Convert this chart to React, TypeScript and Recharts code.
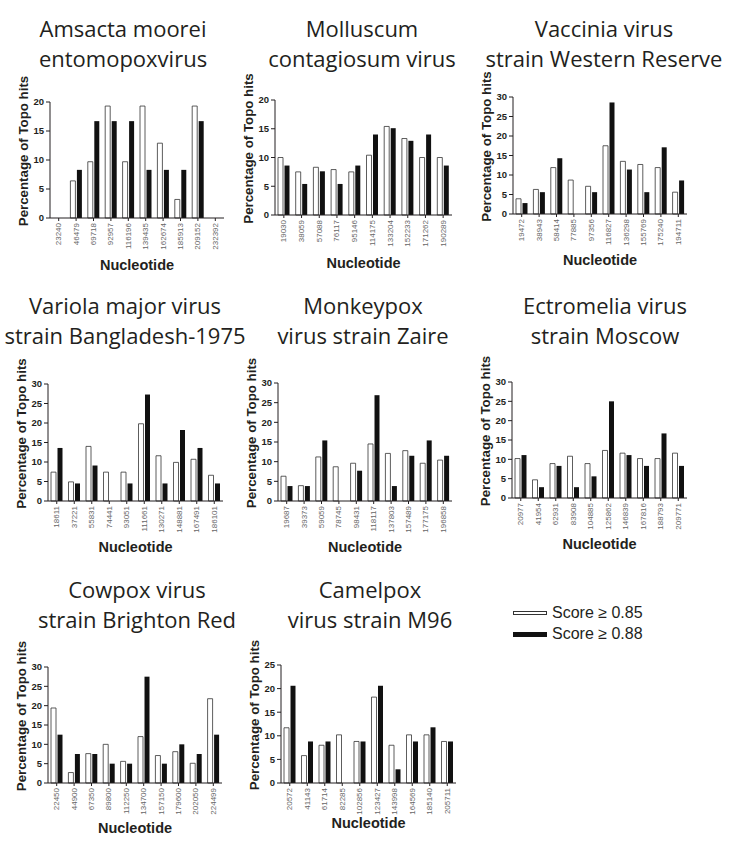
import { BarChart, Bar, XAxis, YAxis } from 'recharts';

// nucleotide positions (x tick labels) and % of Topo hits for the two score cut-offs
const amsPos = ['23240', '46479', '69718', '92957', '116196', '139435', '162674', '185913', '209152', '232392'];
const amsLow = [0, 6.4, 9.7, 19.3, 9.7, 19.3, 12.9, 3.2, 19.3, 0];
const amsHigh = [0, 8.3, 16.7, 16.7, 16.7, 8.3, 8.3, 8.3, 16.7, 0];

const molPos = ['19030', '38059', '57088', '76117', '95146', '114175', '133204', '152233', '171262', '190289'];
const molLow = [10.0, 7.5, 8.3, 7.9, 7.5, 10.4, 15.4, 13.3, 10.0, 10.0];
const molHigh = [8.6, 5.4, 7.6, 5.4, 8.6, 14.0, 15.1, 12.9, 14.0, 8.6];

const vacPos = ['19472', '38943', '58414', '77885', '97356', '116827', '136298', '155769', '175240', '194711'];
const vacLow = [3.9, 6.3, 11.9, 8.7, 7.1, 17.5, 13.5, 12.7, 11.9, 5.6];
const vacHigh = [2.8, 5.6, 14.3, 0, 5.6, 28.6, 11.4, 5.6, 17.1, 8.6];

const varPos = ['18611', '37221', '55831', '74441', '93051', '111661', '130271', '148881', '167491', '186101'];
const varLow = [7.4, 4.9, 14.0, 7.4, 7.4, 19.8, 11.6, 9.9, 10.7, 6.6];
const varHigh = [13.6, 4.5, 9.1, 0, 4.5, 27.3, 4.5, 18.2, 13.6, 4.5];

const monPos = ['19687', '39373', '59059', '78745', '98431', '118117', '137803', '157489', '177175', '196858'];
const monLow = [6.3, 3.9, 11.2, 8.7, 9.6, 14.5, 12.1, 12.8, 9.6, 10.4];
const monHigh = [3.8, 3.8, 15.4, 0, 7.7, 26.9, 3.8, 11.5, 15.4, 11.5];

const ectPos = ['20977', '41954', '62931', '83908', '104885', '125862', '146839', '167816', '188793', '209771'];
const ectLow = [10.2, 4.7, 8.9, 10.8, 8.9, 12.3, 11.6, 10.2, 10.2, 11.6];
const ectHigh = [11.1, 2.8, 8.3, 2.8, 5.6, 25.0, 11.1, 8.3, 16.7, 8.3];

const cowPos = ['22450', '44900', '67350', '89800', '112250', '134700', '157150', '179600', '202050', '224499'];
const cowLow = [19.4, 2.7, 7.6, 10.0, 5.6, 12.0, 7.1, 8.1, 5.1, 21.8];
const cowHigh = [12.5, 7.5, 7.5, 5.0, 5.0, 27.5, 5.0, 10.0, 7.5, 12.5];

const camPos = ['20572', '41143', '61714', '82285', '102856', '123427', '143998', '164569', '185140', '205711'];
const camLow = [11.7, 5.8, 8.0, 10.2, 8.8, 18.2, 8.0, 10.2, 10.2, 8.8];
const camHigh = [20.6, 8.8, 8.8, 0, 8.8, 20.6, 2.9, 8.8, 11.8, 8.8];

const ticks20 = [0, 5, 10, 15, 20];
const ticks25 = [0, 5, 10, 15, 20, 25];
const ticks30 = [0, 5, 10, 15, 20, 25, 30];

const seriesNames = ['Score \u2265 0.85', 'Score \u2265 0.88'];

const FONT = '"Liberation Sans", Arial, sans-serif';
const INK = '#231f20';

type Panel = {
  title: string[];
  pos: string[];
  low: number[];
  high: number[];
  ticks: number[];
  left: number; // plot area, page coords
  top: number;
  w: number;
  h: number;
  titleX: number;
  titleY: number; // baseline of the first title line
  nucDy: number;
};

const panels: Panel[] = [
  { title: ['Amsacta moorei', 'entomopoxvirus'], pos: amsPos, low: amsLow, high: amsHigh, ticks: ticks20,
    left: 50, top: 102, w: 174, h: 116, titleX: 123, titleY: 36, nucDy: 47 },
  { title: ['Molluscum', 'contagiosum virus'], pos: molPos, low: molLow, high: molHigh, ticks: ticks20,
    left: 275, top: 100, w: 177, h: 115, titleX: 362, titleY: 36, nucDy: 48 },
  { title: ['Vaccinia virus', 'strain Western Reserve'], pos: vacPos, low: vacLow, high: vacHigh, ticks: ticks30,
    left: 513, top: 97, w: 174, h: 117, titleX: 604, titleY: 36, nucDy: 46 },
  { title: ['Variola major virus', 'strain Bangladesh-1975'], pos: varPos, low: varLow, high: varHigh, ticks: ticks30,
    left: 48, top: 384, w: 175, h: 117, titleX: 125, titleY: 313, nucDy: 46 },
  { title: ['Monkeypox', 'virus strain Zaire'], pos: monPos, low: monLow, high: monHigh, ticks: ticks30,
    left: 278, top: 383, w: 174, h: 118, titleX: 363, titleY: 313, nucDy: 46 },
  { title: ['Ectromelia virus', 'strain Moscow'], pos: ectPos, low: ectLow, high: ectHigh, ticks: ticks30,
    left: 512, top: 382, w: 175, h: 116, titleX: 605, titleY: 313, nucDy: 46 },
  { title: ['Cowpox virus', 'strain Brighton Red'], pos: cowPos, low: cowLow, high: cowHigh, ticks: ticks30,
    left: 48, top: 667, w: 174, h: 116, titleX: 137, titleY: 597, nucDy: 45 },
  { title: ['Camelpox', 'virus strain M96'], pos: camPos, low: camLow, high: camHigh, ticks: ticks25,
    left: 281, top: 665, w: 175, h: 118, titleX: 370, titleY: 597, nucDy: 40 },
];

const Y_W = 56;
const M_TOP = 40;
const M_RIGHT = 4;
const X_H = 70;

const XTick = ({ x, y, payload }: any) => (
  <text
    x={x}
    y={y}
    transform={`rotate(-90 ${x} ${y})`}
    textAnchor="end"
    dominantBaseline="central"
    fontSize={8}
    fill="#666"
    fontFamily={FONT}
  >
    {payload.value}
  </text>
);

const YLabel = ({ viewBox }: any) => {
  const cx = viewBox.x + viewBox.width - 27;
  const cy = viewBox.y + viewBox.height / 2 - 9;
  return (
    <text
      x={cx}
      y={cy}
      transform={`rotate(-90 ${cx} ${cy})`}
      textAnchor="middle"
      dominantBaseline="central"
      fontSize={13.3}
      fontWeight="bold"
      fill={INK}
      fontFamily={FONT}
    >
      Percentage of Topo hits
    </text>
  );
};

const XLabel = ({ viewBox, dy }: any) => (
  <text
    x={viewBox.x + viewBox.width / 2}
    y={viewBox.y + dy}
    textAnchor="middle"
    dominantBaseline="central"
    fontSize={14.5}
    fontWeight="bold"
    fill={INK}
    fontFamily={FONT}
  >
    Nucleotide
  </text>
);

function VirusPanel({ p }: { p: Panel }) {
  const data = p.pos.map((pos, i) => ({ pos, low: p.low[i], high: p.high[i] }));
  const yMax = p.ticks[p.ticks.length - 1];
  return (
    <>
      <div
        style={{
          position: 'absolute',
          left: p.titleX - 140,
          top: p.titleY - 23.5,
          width: 280,
          textAlign: 'center',
          fontFamily: '"Open Sans", sans-serif',
          fontSize: 22,
          lineHeight: '30px',
          color: INK,
          whiteSpace: 'nowrap',
        }}
      >
        {p.title[0]}
        <br />
        {p.title[1]}
      </div>
      <div style={{ position: 'absolute', left: p.left - Y_W, top: p.top - M_TOP }}>
        <BarChart
          width={Y_W + p.w + M_RIGHT}
          height={M_TOP + p.h + X_H}
          data={data}
          margin={{ top: M_TOP, right: M_RIGHT, bottom: 0, left: 0 }}
          barGap={1.5}
        >
          <XAxis
            dataKey="pos"
            interval={0}
            height={X_H}
            tick={<XTick />}
            tickSize={3}
            tickMargin={2}
            axisLine={{ stroke: INK }}
            tickLine={{ stroke: INK }}
            label={<XLabel dy={p.nucDy} />}
          />
          <YAxis
            width={Y_W}
            domain={[0, yMax]}
            ticks={p.ticks}
            interval={0}
            tickSize={4}
            tickMargin={2}
            axisLine={{ stroke: INK }}
            tickLine={{ stroke: INK }}
            tick={{ fontSize: 9.5, fontWeight: 'bold', fill: INK, fontFamily: FONT }}
            label={<YLabel />}
          />
          <Bar dataKey="low" name={seriesNames[0]} fill="#ffffff" stroke="#333" strokeWidth={0.8} barSize={5} isAnimationActive={false} />
          <Bar dataKey="high" name={seriesNames[1]} fill="#111111" barSize={5} isAnimationActive={false} />
        </BarChart>
      </div>
    </>
  );
}

function LegendBox() {
  return (
    <div style={{ position: 'absolute', left: 513, top: 602, fontFamily: FONT, fontSize: 16, color: INK }}>
      {seriesNames.map((name, i) => (
        <div key={name} style={{ display: 'flex', alignItems: 'center', height: 21.5 }}>
          <span
            style={{
              display: 'inline-block',
              width: i === 0 ? 32 : 34,
              height: i === 0 ? 2.5 : 4.5,
              background: i === 0 ? '#fff' : '#111',
              border: i === 0 ? '0.8px solid #333' : 'none',
              marginRight: 5,
            }}
          />
          {name}
        </div>
      ))}
    </div>
  );
}

export default function App() {
  return (
    <div style={{ position: 'absolute', left: 0, top: 0, width: 729, height: 843, background: '#fff' }}>
      {panels.map((p) => (
        <VirusPanel key={p.title.join(' ')} p={p} />
      ))}
      <LegendBox />
    </div>
  );
}
